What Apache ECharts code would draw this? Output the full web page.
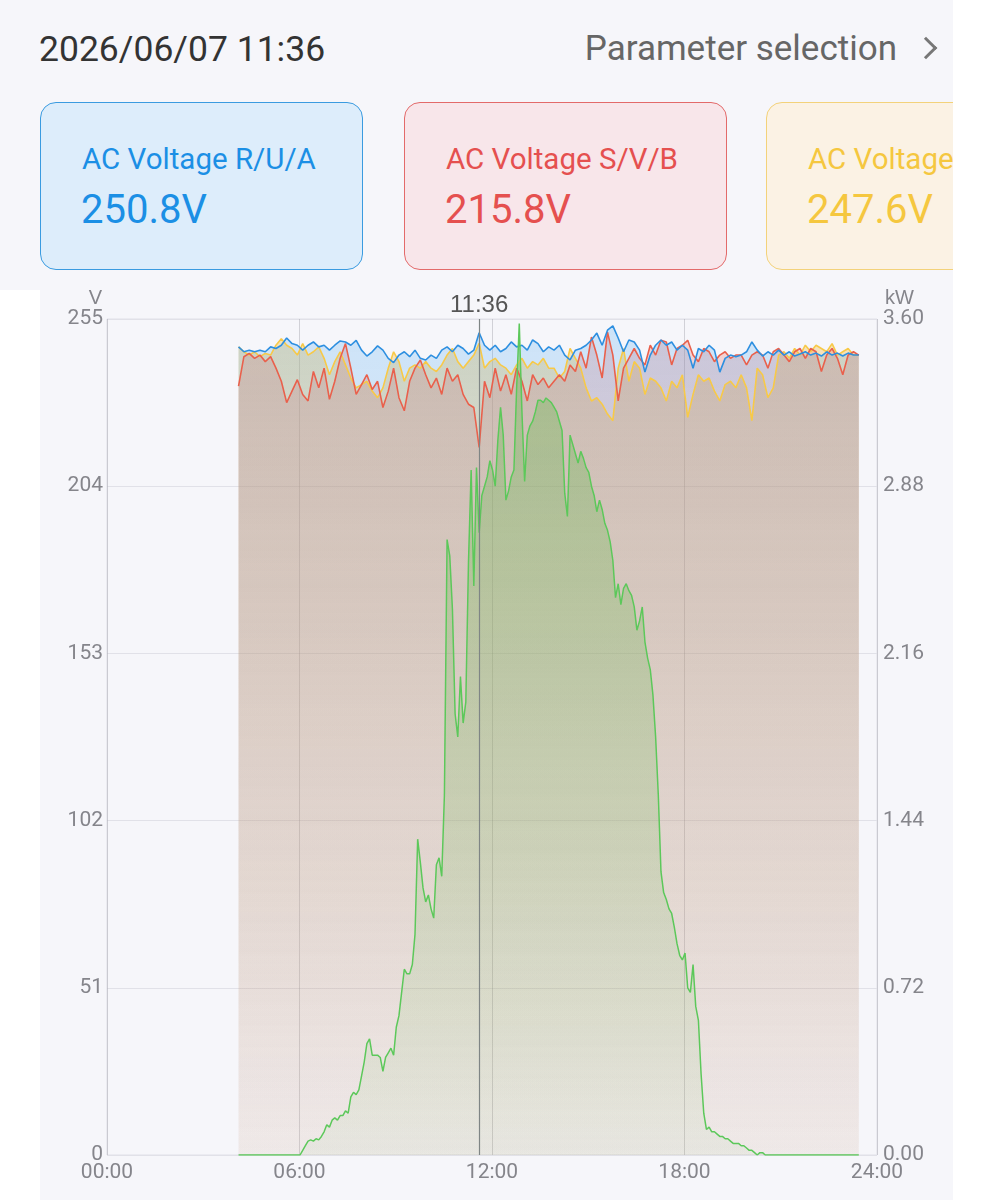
<!DOCTYPE html>
<html>
<head>
<meta charset="utf-8">
<script src="https://cdn.jsdelivr.net/npm/echarts@6/dist/echarts.min.js"></script>
<style>
  html, body { margin: 0; padding: 0; background: #ffffff; font-family: Roboto, "Noto Sans", sans-serif; }
  #page { position: relative; width: 993px; height: 1200px; overflow: hidden; }
  #head { position: absolute; left: 0; top: 0; width: 953px; height: 290px; background: #f6f6fa; overflow: hidden; }
  #chartBg { position: absolute; left: 40px; top: 290px; width: 913px; height: 910px; background: #f6f6fa; }
  #main { position: absolute; left: 0; top: 280px; width: 953px; height: 920px; }
  .date { position: absolute; left: 39px; top: 28px; font-size: 35.5px; color: #333; }
  .param { position: absolute; right: 56px; top: 28px; font-size: 35px; color: #666; }
  .chev { position: absolute; left: 918px; top: 40px; width: 13px; height: 13px;
          border-top: 3px solid #777; border-right: 3px solid #777; transform: rotate(45deg); }
  .card { position: absolute; top: 102px; width: 321px; height: 166px; border-radius: 16px; border: 1px solid; }
  .card .t { position: absolute; left: 41px; top: 39px; font-size: 29.5px; white-space: nowrap; }
  .card .v { position: absolute; left: 40px; top: 83px; font-size: 40px; white-space: nowrap; }
</style>
</head>
<body>
<div id="page">
  <div id="head">
    <div class="date">2026/06/07 11:36</div>
    <div class="param">Parameter selection</div>
    <div class="chev"></div>
    <div id="cards"></div>
  </div>
  <div id="chartBg"></div>
  <div id="main"></div>
</div>
<script>
// header cards
const cardNames = ['AC Voltage R/U/A', 'AC Voltage S/V/B', 'AC Voltage T/W/C'];
const cardValues = ['250.8V', '215.8V', '247.6V'];
const cardColors = ['#1b8fe5', '#e5504f', '#f5c73f'];
const cardBorders = ['#3a9be0', '#e36a6a', '#f3d27a'];
const cardBgs = ['#ddedfb', '#f8e6ea', '#fbf2e4'];
const cardLeft = [40, 404, 766];

// voltage samples: every 10 min from 04:06
const voltStart = 246, voltStep = 10;
const voltR = [
  246.5,245,245.5,245,245.5,245,246.5,246,247,249.2,
  247.5,247,245.5,247,248,246.5,247,245.5,247,248.3,
  248,247,248.5,245.5,243.7,245,246.8,245.5,243,241.7,
  244,245,243.5,245.5,243,242.5,244,243,245.5,246.5,
  245,247,246,244.3,245.5,250.8,247,245.5,247,245,
  246,248,246.5,247,245.5,248.6,247.5,245,246.5,245.5,
  247,244,242.5,245.5,246,247,248.6,250.7,247,251.6,
  252.9,249.2,245,248.6,248,245.5,238.8,244,247,248.6,
  247,248,245.5,247,245.5,240,246,245,247,245.5,
  238.8,243,244,243.5,244,245,248,245.5,243.7,245,
  244,245.5,244,245,243.7,244.3,245,244,244.6,243.7,
  245,244,244.6,243.7,244.6,244,244
];
const voltS = [
  234.5,243.5,244.5,243,244,242,243.5,240,236,229.5,
  233,236.5,232,230,239,234,240,230.5,236,243,
  247.5,240,232,235,238,233.5,236,228,233,240,
  231,227,236,240,242.5,238,234,237,232,240,
  236,238,232,229,228,215.8,236,231,240,233,
  238,232,240,236,230,238,235,237,234,236,
  238,236,241,239,245,240,249.5,244,237,251,
  244,230,240,243,246,243,241,247,244,248.5,
  248,241,246,247,248.5,244,242,246,245,242,
  244,245,243,244,244,241,244,245,244,240,
  245,246,244,242,245,246,243,246,245,239,
  244,246,243,238,244,245,244
];
const voltT = [
  246.5,245,244,245,243.5,244.5,244,247,249,247,
  246,244,247.5,244,245,246.5,243,238,242,245,
  241,237,234,235,236,233,231,234,240,245,
  242,236,240,241,240,242,240,239,241,244,
  246,242,240,242,244,247.6,240,242,243,241,
  240,238,241,243,240,242,241,243,240,240,
  237,239,246,243,240,234,230,231,229,226,
  224,240,246,236,242,240,232,237,236,234,
  230,236,234,238,225,232,238,236,237,233,
  230,235,236,234,238,234,224,240,238,231,
  234,244,245,243,246,244,247,245,247,246,
  245,247.5,244,245,246,244,244
];

// power samples: every 5 min from 04:06
const powerStart = 246, powerStep = 5;
const power = [
  0,0,0,0,0,0,0,0,0,0,0,0,0,0,0,0,0,0,0,0,0,0,0,0,
  0.02,0.04,0.06,0.065,0.06,0.07,0.065,0.08,0.10,0.13,
  0.12,0.15,0.16,0.15,0.17,0.17,0.19,0.18,0.25,0.27,
  0.26,0.28,0.34,0.40,0.48,0.50,0.43,0.43,0.43,0.42,
  0.36,0.42,0.44,0.46,0.43,0.55,0.60,0.70,0.80,0.78,
  0.78,0.82,0.95,1.36,1.26,1.15,1.09,1.12,1.06,1.02,
  1.25,1.28,1.20,1.55,2.65,2.58,2.35,1.90,1.80,2.06,
  1.86,1.95,2.55,2.95,2.45,2.96,2.68,2.84,2.88,2.92,
  2.99,2.95,2.88,3.08,3.22,3.10,2.82,2.86,2.92,2.95,
  3.30,3.58,3.20,2.90,3.10,3.14,3.16,3.20,3.25,3.25,
  3.24,3.26,3.25,3.24,3.22,3.20,3.16,3.12,2.85,2.75,
  3.10,3.06,3.02,2.98,3.03,3.00,2.96,2.94,2.88,2.84,
  2.77,2.82,2.78,2.72,2.69,2.64,2.56,2.40,2.46,2.37,
  2.44,2.46,2.43,2.41,2.36,2.26,2.30,2.36,2.21,2.14,
  2.09,1.98,1.80,1.55,1.22,1.13,1.10,1.06,1.04,0.98,
  0.91,0.86,0.84,0.87,0.72,0.70,0.82,0.64,0.58,0.35,
  0.18,0.11,0.12,0.10,0.10,0.09,0.08,0.08,0.07,0.07,
  0.06,0.05,0.05,0.05,0.04,0.04,0.03,0.02,0.02,0.01,
  0.00,0.01,0.01,0,
  0,0,0,0,0,0,0,0,0,0,0,0,0,0,0,0,0,0,0,0,
  0,0,0,0,0,0,0,0,0,0,0,0,0,0,0
];
const nowMinute = 696; // 11:36
const nowLabel = '11:36';

const cards = document.getElementById('cards');
cardNames.forEach((n, i) => {
  const d = document.createElement('div');
  d.className = 'card';
  d.style.left = cardLeft[i] + 'px';
  d.style.borderColor = cardBorders[i];
  d.style.background = cardBgs[i];
  d.style.color = cardColors[i];
  d.innerHTML = '<div class="t">' + n + '</div><div class="v">' + cardValues[i] + '</div>';
  cards.appendChild(d);
});

function pairs(start, step, arr) {
  return arr.map((v, i) => [start + i * step, v]);
}
function grad(r, g, b, a0, a1) {
  return new echarts.graphic.LinearGradient(0, 0, 0, 1, [
    { offset: 0, color: `rgba(${r},${g},${b},${a0})` },
    { offset: 1, color: `rgba(${r},${g},${b},${a1})` }
  ]);
}
function pad(n) { return (n < 10 ? '0' : '') + n; }

const labelStyle = { color: '#85858b', fontSize: 21, fontFamily: 'Roboto' };
const myChart = echarts.init(document.getElementById('main'));
const option = {
  animation: false,
  grid: { left: 107, right: 76, top: 39, bottom: 45, show: true, borderColor: '#e1e1e8', borderWidth: 1 },
  xAxis: {
    type: 'value', min: 0, max: 1440, interval: 360,
    axisLine: { show: false }, axisTick: { show: false },
    axisLabel: Object.assign({ margin: 7, formatter: v => pad(v / 60) + ':00' }, labelStyle),
    splitLine: { show: true, lineStyle: { color: 'rgba(140,140,150,0.35)', width: 1 } }
  },
  yAxis: [
    {
      type: 'value', min: 0, max: 255, interval: 51, name: 'V', nameGap: 4,
      nameTextStyle: { color: '#85858b', fontSize: 20, align: 'right', padding: [0, 5, 0, 0] },
      axisLine: { show: false }, axisTick: { show: false },
      axisLabel: Object.assign({ margin: 4 }, labelStyle),
      splitLine: { lineStyle: { color: '#e1e1e8' } }
    },
    {
      type: 'value', min: 0, max: 3.6, interval: 0.72, name: 'kW', nameGap: 4,
      nameTextStyle: { color: '#85858b', fontSize: 20, align: 'left', padding: [0, 0, 0, 8] },
      axisLine: { show: false }, axisTick: { show: false },
      axisLabel: Object.assign({ margin: 6, formatter: v => v.toFixed(2) }, labelStyle),
      splitLine: { show: false }
    }
  ],
  series: [
    {
      name: 'T', type: 'line', showSymbol: false, yAxisIndex: 0,
      data: pairs(voltStart, voltStep, voltT),
      lineStyle: { color: '#f7c948', width: 1.6 },
      areaStyle: { opacity: 1, color: grad(245, 190, 70, 0.36, 0.05) }
    },
    {
      name: 'S', type: 'line', showSymbol: false, yAxisIndex: 0,
      data: pairs(voltStart, voltStep, voltS),
      lineStyle: { color: '#e9604c', width: 1.6 },
      areaStyle: { opacity: 1, color: grad(232, 95, 85, 0.24, 0.05) }
    },
    {
      name: 'R', type: 'line', showSymbol: false, yAxisIndex: 0,
      data: pairs(voltStart, voltStep, voltR),
      lineStyle: { color: '#2d8fe0', width: 1.6 },
      areaStyle: { opacity: 1, color: grad(60, 160, 240, 0.22, 0.03) },
      markLine: {
        silent: true, symbol: 'none',
        lineStyle: { color: '#7f8585', width: 1.2, type: 'solid' },
        label: { show: true, position: 'end', formatter: nowLabel, color: '#555', fontSize: 24, distance: 2 },
        data: [{ xAxis: nowMinute }]
      }
    },
    {
      name: 'P', type: 'line', showSymbol: false, yAxisIndex: 1,
      data: pairs(powerStart, powerStep, power),
      lineStyle: { color: '#5cc85a', width: 1.5 },
      areaStyle: { opacity: 1, color: grad(95, 185, 70, 0.36, 0.05) }
    }
  ]
};
myChart.setOption(option);
</script>
</body>
</html>
